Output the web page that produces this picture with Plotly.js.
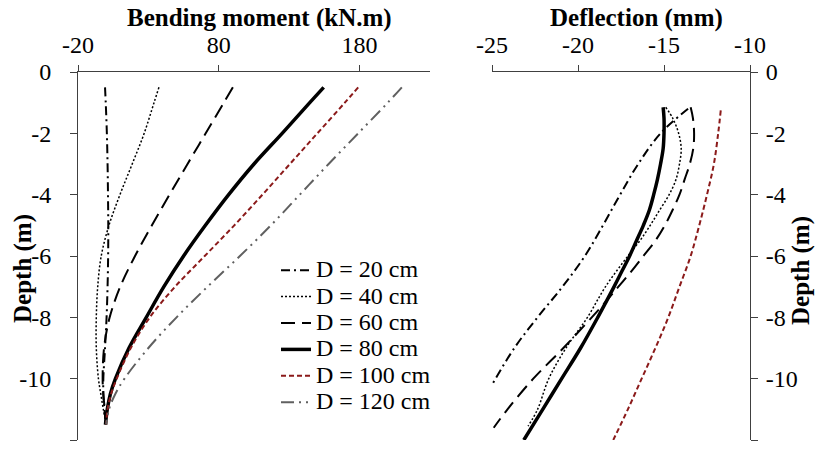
<!DOCTYPE html>
<html>
<head>
<meta charset="utf-8">
<script src="https://cdn.plot.ly/plotly-3.0.1.min.js"></script>
<style>html,body{margin:0;padding:0;background:#fff;}#chart{width:819px;height:452px;}</style>
</head>
<body>
<div id="chart"></div>
<script>
// ---- Bending moment (left panel) ----
const depthBM = [-0.5, -1, -2, -3, -4, -5, -6, -7, -8, -9, -10, -10.5, -11, -11.5];
const bm20  = [-0.8, -0.3, 0.5, 1, 1.3, 1.5, 1.4, 1, 0.3, -0.8, -2, -2, -1.2, -0.3];
const bm40  = [37.5, 34, 27, 18.5, 9.8, 2, -3.5, -6, -7, -7, -5.5, -3.8, -2, 0];
const bm60  = [90, 83.6, 70.7, 57.8, 45, 32.5, 20.5, 10, 2.5, -1.5, -2.5, -2, -1, 0];
const bm80  = [154.5, 144.6, 125, 105, 87, 70.5, 55, 41, 28.5, 16.2, 6.6, 3, 0.8, -0.5];
const bm100 = [179, 169.5, 150, 130.5, 111, 91, 70, 49, 31, 17.5, 7.5, 3.5, 1, 0];
const bm120 = [210, 200, 179, 158, 137.5, 117, 95, 72, 50, 30, 13, 6.5, 2, 0];

// ---- Deflection (right panel) ----
const depthD20 = [-1.2, -2, -3, -4, -5, -6, -7, -8, -9, -10.2];
const def20    = [-13.6, -15.2, -16.5, -17.55, -18.55, -19.6, -20.9, -22.35, -23.7, -25];
const depthD40 = [-1.15, -1.5, -2, -2.5, -3, -3.5, -4, -4.5, -5, -5.5, -6, -7, -8, -9, -10, -11, -11.55];
const def40    = [-14.9, -14.5, -14.15, -14.0, -14.1, -14.3, -14.7, -15.25, -15.8, -16.4, -17.1, -18.4, -19.45, -20.7, -21.7, -22.35, -22.9];
const depthD60 = [-1.15, -1.5, -2, -2.5, -3, -3.5, -4, -4.5, -5, -5.5, -6, -6.5, -7, -7.5, -8, -9, -10, -11, -11.6];
const def60    = [-13.45, -13.32, -13.25, -13.3, -13.5, -13.8, -14.1, -14.5, -14.95, -15.5, -16.2, -16.9, -17.65, -18.4, -19.2, -20.85, -22.6, -24.1, -24.9];
const depthD80 = [-1.15, -1.5, -2, -2.5, -3, -3.5, -4, -4.5, -5, -5.5, -6, -6.5, -7, -8, -9, -10, -11, -12];
const def80    = [-15.05, -15.0, -15.0, -15.05, -15.2, -15.38, -15.6, -15.85, -16.2, -16.6, -17.0, -17.45, -17.9, -18.85, -19.85, -20.95, -22.05, -23.15];
const depthD100 = [-1.25, -2, -3, -4, -5, -6, -7, -8, -9, -10, -11, -12];
const def100    = [-11.7, -11.85, -12.1, -12.5, -12.95, -13.45, -14.1, -14.75, -15.5, -16.3, -17.1, -17.95];

const seriesNames = ['D = 20 cm', 'D = 40 cm', 'D = 60 cm', 'D = 80 cm', 'D = 100 cm', 'D = 120 cm'];
const bmTickVals = [-20, 80, 180];
const bmTickText = ['-20', '80', '180'];
const defTickVals = [-25, -20, -15, -10];
const defTickText = ['-25', '-20', '-15', '-10'];
const depthTickVals = [0, -2, -4, -6, -8, -10, -12];
const depthTickText = ['0', '-2', '-4', '-6', '-8', '-10', '-12'];
const titleBM = 'Bending moment (kN.m)';
const titleDef = 'Deflection (mm)';
const titleDepth = 'Depth (m)';

const styles = [
  {color: '#000000', width: 2, dash: '9px,4px,2px,4px'},
  {color: '#000000', width: 1.5, dash: '2px,2px'},
  {color: '#000000', width: 2, dash: '14px,7px'},
  {color: '#000000', width: 3.5, dash: 'solid'},
  {color: '#8B1A1A', width: 2, dash: '5px,3px'},
  {color: '#606060', width: 2, dash: '13px,5px,2px,5px,2px,5px'}
];

const bmSeries = [bm20, bm40, bm60, bm80, bm100, bm120];
const defSeries = [[def20, depthD20], [def40, depthD40], [def60, depthD60], [def80, depthD80], [def100, depthD100]];

const traces = [];
bmSeries.forEach((vals, i) => {
  traces.push({
    x: vals, y: depthBM, xaxis: 'x', yaxis: 'y', type: 'scatter', mode: 'lines',
    name: '<span style="font-size:24px">' + seriesNames[i] + '</span>',
    line: Object.assign({shape: 'spline', smoothing: 1}, styles[i]),
    legendgroup: 'g' + i, showlegend: true
  });
});
defSeries.forEach((pair, i) => {
  traces.push({
    x: pair[0], y: pair[1], xaxis: 'x2', yaxis: 'y2', type: 'scatter', mode: 'lines',
    name: seriesNames[i],
    line: Object.assign({shape: 'spline', smoothing: 1}, styles[i]),
    legendgroup: 'g' + i, showlegend: false
  });
});

const FAM = 'Liberation Serif, Times New Roman, serif';
const tickFont = {family: FAM, size: 24, color: '#000'};
const titleFont = {family: FAM, size: 25, color: '#000', weight: 'bold'};
const axLine = '#404040';

const W = 819, H = 452;
function axCommon(extra) {
  return Object.assign({
    tickmode: 'array', ticks: 'outside', tickcolor: axLine,
    showline: true, linecolor: axLine, linewidth: 1, showgrid: false, zeroline: false,
    tickfont: tickFont, automargin: false
  }, extra);
}
const layout = {
  width: W, height: H,
  margin: {l: 0, r: 0, t: 0, b: 0},
  paper_bgcolor: '#fff', plot_bgcolor: 'rgba(0,0,0,0)',
  font: tickFont,
  showlegend: true,
  legend: {
    x: 276 / W, y: 1 - 252 / H, xanchor: 'left', yanchor: 'top',
    bgcolor: 'rgba(0,0,0,0)', borderwidth: 0,
    font: {family: FAM, size: 18, color: '#000'},
    tracegroupgap: 0
  },
  xaxis: axCommon({
    domain: [78 / W, 430 / W], range: [-20, 230], side: 'top', anchor: 'y',
    tickvals: bmTickVals, ticktext: bmTickText, ticklen: 6, ticklabelstandoff: 2
  }),
  yaxis: axCommon({
    domain: [1 - 440 / H, 1 - 72 / H], range: [-12, 0], anchor: 'x',
    tickvals: depthTickVals, ticktext: depthTickText, ticklen: 7, ticklabelstandoff: 14
  }),
  xaxis2: axCommon({
    domain: [492 / W, 750 / W], range: [-25, -10], side: 'top', anchor: 'y2',
    tickvals: defTickVals, ticktext: defTickText, ticklen: 6, ticklabelstandoff: 2
  }),
  yaxis2: axCommon({
    domain: [1 - 440 / H, 1 - 72 / H], range: [-12, 0], anchor: 'x2', side: 'right',
    tickvals: depthTickVals, ticktext: depthTickText, ticklen: 7, ticklabelstandoff: 3
  }),
  annotations: [
    {text: titleBM, xref: 'paper', yref: 'paper', x: 259 / W, y: 1 - 18 / H, xanchor: 'center', yanchor: 'middle', showarrow: false, font: titleFont},
    {text: titleDef, xref: 'paper', yref: 'paper', x: 636 / W, y: 1 - 18 / H, xanchor: 'center', yanchor: 'middle', showarrow: false, font: titleFont},
    {text: titleDepth, xref: 'paper', yref: 'paper', x: 23 / W, y: 1 - 269 / H, xanchor: 'center', yanchor: 'middle', textangle: -90, showarrow: false, font: titleFont},
    {text: titleDepth, xref: 'paper', yref: 'paper', x: 801 / W, y: 1 - 271 / H, xanchor: 'center', yanchor: 'middle', textangle: -90, showarrow: false, font: titleFont}
  ]
};

Plotly.newPlot('chart', traces, layout, {displayModeBar: false, staticPlot: true});
</script>
</body>
</html>
